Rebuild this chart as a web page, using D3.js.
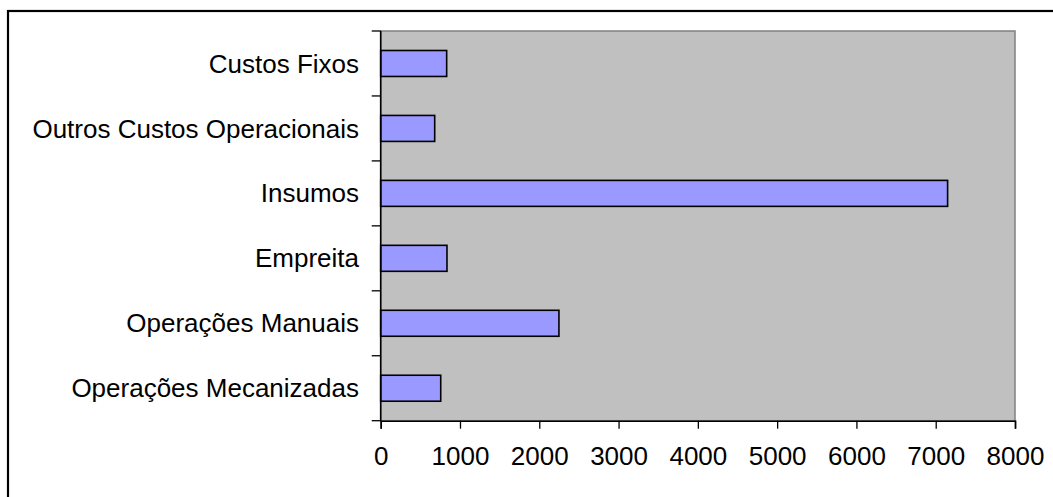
<!DOCTYPE html>
<html>
<head>
<meta charset="utf-8">
<script src="https://cdn.jsdelivr.net/npm/d3@7"></script>
<style>
html,body{margin:0;padding:0;background:#fff;overflow:hidden;}
svg{display:block;}
text{font-family:"Liberation Sans",Arial,sans-serif;fill:#000;}
</style>
</head>
<body>
<svg id="chart" width="1053" height="497"></svg>
<script>
const categories = ["Custos Fixos","Outros Custos Operacionais","Insumos","Empreita","Operações Manuais","Operações Mecanizadas"];
const values = [832, 681, 7150, 836, 2248, 757];
const xTicks = [0,1000,2000,3000,4000,5000,6000,7000,8000];

const svg = d3.select("#chart");
const m = {left:380.7, top:31, right:1015, bottom:420.7};
const FS = 26;

// outer frame
svg.append("rect").attr("x",8).attr("y",11).attr("width",1200).attr("height",700)
  .attr("fill","none").attr("stroke","#000").attr("stroke-width",2.2);

const x = d3.scaleLinear().domain([0,8000]).range([m.left,m.right]);
const y = d3.scaleBand().domain(categories).range([m.top,m.bottom]).paddingInner(0.6).paddingOuter(0.3);
const yb = d3.scaleBand().domain(categories).range([m.top,m.bottom]);

// plot area
svg.append("rect").attr("x",m.left).attr("y",m.top).attr("width",m.right-m.left).attr("height",m.bottom-m.top)
  .attr("fill","#C0C0C0").attr("stroke","#808080").attr("stroke-width",1.5);

// bars
svg.selectAll(".bar").data(categories).enter().append("rect")
  .attr("x",x(0))
  .attr("y",d=>y(d))
  .attr("width",(d,i)=>x(values[i])-x(0))
  .attr("height",y.bandwidth())
  .attr("fill","#9999FF").attr("stroke","#000").attr("stroke-width",1.6);

// x axis
const xa = svg.append("g").attr("transform",`translate(0,${m.bottom})`)
  .call(d3.axisBottom(x).tickValues(xTicks).tickFormat(d3.format("d")).tickSize(8).tickPadding(18));
xa.select(".domain").attr("stroke","#000").attr("stroke-width",1.6);
xa.selectAll(".tick line").attr("stroke","#000").attr("stroke-width",1.3);
xa.selectAll("text").attr("font-size",FS).style("font-family",'"Liberation Sans",Arial,sans-serif');

// y axis: ticks at band boundaries
const boundaries = categories.map(c=>yb(c)).concat([m.bottom]);
svg.selectAll(".ytick").data(boundaries).enter().append("line")
  .attr("x1",m.left-9).attr("x2",m.left).attr("y1",d=>d).attr("y2",d=>d)
  .attr("stroke","#000").attr("stroke-width",1.3);
svg.append("line").attr("x1",m.left).attr("x2",m.left).attr("y1",m.top).attr("y2",m.bottom)
  .attr("stroke","#000").attr("stroke-width",1.6);

svg.selectAll(".ylab").data(categories).enter().append("text")
  .attr("x",359)
  .attr("y",d=>yb(d)+yb.bandwidth()/2)
  .attr("dy","0.35em")
  .attr("text-anchor","end")
  .attr("font-size",FS)
  .text(d=>d);
</script>
</body>
</html>
